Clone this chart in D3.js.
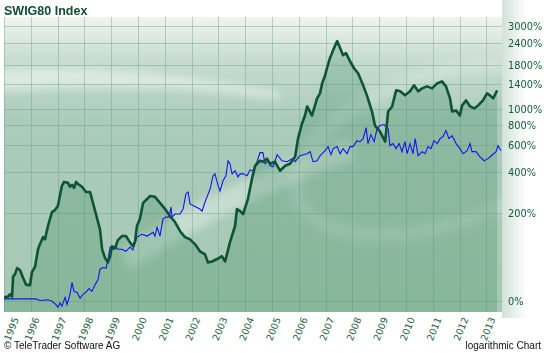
<!DOCTYPE html>
<html>
<head>
<meta charset="utf-8">
<script src="https://cdn.jsdelivr.net/npm/d3@7"></script>
<style>
  html, body { margin: 0; padding: 0; background: #fff; }
  svg { display: block; }
</style>
</head>
<body>
<svg id="chart" width="544" height="353"></svg>
<script>
// tick labels
const yearTicks = [1995, 1996, 1997, 1998, 1999, 2000, 2001, 2002, 2003, 2004,
  2005, 2006, 2007, 2008, 2009, 2010, 2011, 2012, 2013];
const pctTicks = [0, 200, 400, 600, 800, 1000, 1400, 1800, 2400, 3000];

// SWIG80 index, % change since start
const swig = [
  [1995.00, 4], [1995.15, 5], [1995.22, 8], [1995.30, 5], [1995.34, 35], [1995.41, 39],
  [1995.49, 50], [1995.60, 46], [1995.71, 33], [1995.82, 22], [1995.97, 21], [1996.04, 42],
  [1996.16, 53], [1996.27, 90], [1996.34, 102], [1996.46, 121], [1996.53, 115], [1996.64, 154],
  [1996.79, 202], [1996.90, 210], [1997.01, 226], [1997.16, 320], [1997.24, 341], [1997.39, 336],
  [1997.46, 315], [1997.54, 325], [1997.61, 309], [1997.69, 341], [1997.76, 330], [1997.91, 315],
  [1998.06, 289], [1998.21, 289], [1998.28, 256], [1998.43, 195], [1998.58, 144], [1998.66, 90],
  [1998.77, 70], [1998.88, 61], [1998.96, 74], [1999.03, 97], [1999.14, 92], [1999.25, 113],
  [1999.40, 124], [1999.55, 124], [1999.70, 107], [1999.81, 97], [1999.89, 110], [1999.96, 154],
  [2000.07, 177], [2000.19, 239], [2000.34, 256], [2000.45, 270], [2000.63, 266], [2000.82, 239],
  [2001.01, 214], [2001.19, 188], [2001.38, 167], [2001.57, 138], [2001.75, 121], [2001.94, 115],
  [2002.13, 102], [2002.31, 85], [2002.50, 78], [2002.61, 61], [2002.76, 63], [2002.95, 68],
  [2003.13, 74], [2003.25, 63], [2003.43, 107], [2003.62, 154], [2003.69, 214], [2003.81, 206],
  [2003.92, 195], [2004.10, 256], [2004.25, 358], [2004.37, 440], [2004.55, 475], [2004.66, 468],
  [2004.81, 490], [2004.93, 454], [2005.11, 468], [2005.30, 407], [2005.49, 440], [2005.67, 454],
  [2005.86, 504], [2005.97, 658], [2006.12, 816], [2006.23, 912], [2006.31, 1034], [2006.49, 912],
  [2006.68, 1154], [2006.79, 1236], [2006.87, 1414], [2006.98, 1575], [2007.05, 1729], [2007.16, 1975],
  [2007.28, 2195], [2007.43, 2470], [2007.54, 2253], [2007.65, 2054], [2007.76, 2109], [2007.91, 1897],
  [2008.06, 1729], [2008.21, 1618], [2008.40, 1377], [2008.54, 1203], [2008.73, 964], [2008.84, 793],
  [2009.03, 728], [2009.22, 630], [2009.33, 964], [2009.48, 1034], [2009.63, 1287], [2009.78, 1270],
  [2009.96, 1203], [2010.15, 1270], [2010.30, 1377], [2010.45, 1270], [2010.60, 1322], [2010.78, 1358],
  [2010.97, 1322], [2011.16, 1414], [2011.34, 1453], [2011.49, 1358], [2011.64, 1154], [2011.72, 964],
  [2011.87, 978], [2012.01, 912], [2012.09, 1048], [2012.24, 1123], [2012.39, 1034], [2012.54, 1006],
  [2012.69, 1048], [2012.87, 1123], [2013.02, 1236], [2013.13, 1203], [2013.25, 1154], [2013.40, 1287]
];

// comparison index (blue), % change since start
const bench = [
  [1995.00, 2], [1996.19, 2], [1996.34, 0], [1996.64, 1], [1996.79, -1], [1996.94, -5],
  [1997.01, -8], [1997.09, -3], [1997.16, -7], [1997.28, 4], [1997.35, -5], [1997.46, 8],
  [1997.54, 25], [1997.61, 12], [1997.72, 11], [1997.84, 3], [1997.95, 8], [1998.06, 11],
  [1998.17, 16], [1998.28, 12], [1998.40, 22], [1998.51, 30], [1998.58, 48], [1998.69, 51],
  [1998.81, 50], [1998.88, 68], [1998.96, 95], [1999.07, 90], [1999.18, 95], [1999.25, 90],
  [1999.40, 90], [1999.55, 85], [1999.70, 95], [1999.81, 88], [1999.96, 121], [2000.15, 129],
  [2000.34, 124], [2000.45, 129], [2000.56, 135], [2000.63, 124], [2000.71, 150], [2000.82, 124],
  [2000.93, 177], [2001.04, 184], [2001.16, 184], [2001.23, 222], [2001.27, 184], [2001.38, 195],
  [2001.57, 195], [2001.68, 214], [2001.79, 280], [2001.87, 289], [2001.94, 235], [2002.09, 226],
  [2002.31, 214], [2002.39, 206], [2002.50, 243], [2002.69, 304], [2002.80, 376], [2002.87, 388],
  [2002.99, 320], [2003.06, 294], [2003.17, 347], [2003.28, 376], [2003.36, 475], [2003.43, 454],
  [2003.51, 388], [2003.62, 407], [2003.73, 370], [2003.81, 388], [2003.92, 388], [2004.07, 376],
  [2004.18, 413], [2004.29, 407], [2004.44, 468], [2004.55, 536], [2004.66, 536], [2004.74, 454],
  [2004.85, 475], [2004.93, 440], [2005.04, 433], [2005.19, 520], [2005.37, 475], [2005.56, 468],
  [2005.75, 490], [2005.86, 468], [2006.04, 512], [2006.16, 520], [2006.31, 528], [2006.42, 544],
  [2006.53, 468], [2006.68, 475], [2006.79, 512], [2006.98, 552], [2007.09, 586], [2007.20, 520],
  [2007.28, 569], [2007.43, 586], [2007.54, 528], [2007.65, 569], [2007.80, 528], [2007.91, 586],
  [2008.02, 586], [2008.17, 639], [2008.28, 630], [2008.40, 658], [2008.51, 771], [2008.58, 612],
  [2008.69, 697], [2008.81, 630], [2008.92, 760], [2009.03, 793], [2009.18, 804], [2009.33, 760],
  [2009.40, 594], [2009.51, 612], [2009.63, 569], [2009.74, 612], [2009.85, 544], [2009.96, 630],
  [2010.04, 528], [2010.15, 612], [2010.26, 528], [2010.34, 658], [2010.45, 512], [2010.60, 544],
  [2010.71, 528], [2010.82, 586], [2010.93, 569], [2011.04, 639], [2011.16, 612], [2011.27, 658],
  [2011.38, 678], [2011.49, 738], [2011.60, 658], [2011.72, 687], [2011.87, 612], [2012.01, 569],
  [2012.13, 528], [2012.28, 552], [2012.39, 612], [2012.46, 544], [2012.61, 544], [2012.76, 504],
  [2012.91, 475], [2013.06, 490], [2013.18, 512], [2013.36, 544], [2013.43, 594], [2013.54, 552]
];

const svg = d3.select("#chart");
const pLeft = 4, pRight = 502, pTop = 17, pBottom = 312;

const x = d3.scaleLinear().domain([1995, 2013.58]).range([pLeft, pRight]);
// log chart of the growth factor (1 + pct/100)
const y = d3.scaleLog().domain([1, 10]).range([300.5, 116.5]);
const yp = (p) => y(1 + p / 100);

const defs = svg.append("defs");

const bg = defs.append("linearGradient")
  .attr("id", "plotBg").attr("x1", 0).attr("y1", 0).attr("x2", 0).attr("y2", 1);
bg.append("stop").attr("offset", "0%").attr("stop-color", "#f1f4f2");
bg.append("stop").attr("offset", "14%").attr("stop-color", "#c8ddd2");
bg.append("stop").attr("offset", "35%").attr("stop-color", "#abcbbb");
bg.append("stop").attr("offset", "100%").attr("stop-color", "#a6c9b3");

const side = defs.append("linearGradient")
  .attr("id", "sideBg").attr("x1", 0).attr("y1", 0).attr("x2", 1).attr("y2", 0);
side.append("stop").attr("offset", "0%").attr("stop-color", "#d3e1da");
side.append("stop").attr("offset", "60%").attr("stop-color", "#ffffff");

defs.append("filter").attr("id", "soft")
  .attr("x", "-20%").attr("y", "-50%").attr("width", "140%").attr("height", "200%")
  .append("feGaussianBlur").attr("stdDeviation", 4);

defs.append("clipPath").attr("id", "plotClip")
  .append("rect")
  .attr("x", pLeft).attr("y", pTop)
  .attr("width", pRight - pLeft).attr("height", pBottom - pTop);

// right label panel
svg.append("rect")
  .attr("x", pRight).attr("y", 0)
  .attr("width", 544 - pRight).attr("height", pBottom + 6)
  .attr("fill", "url(#sideBg)");

const plot = svg.append("g").attr("clip-path", "url(#plotClip)");

plot.append("rect")
  .attr("x", pLeft).attr("y", pTop)
  .attr("width", pRight - pLeft).attr("height", pBottom - pTop)
  .attr("fill", "url(#plotBg)");

// watermark swooshes
const deco = plot.append("g").attr("filter", "url(#soft)").attr("fill", "#ffffff");
deco.append("path")
  .attr("d", "M0,70 C80,66 180,72 280,92 L280,100 C180,84 80,86 0,92 Z")
  .attr("opacity", 0.45);
deco.append("path")
  .attr("d", "M120,245 C190,205 260,170 350,140 L355,160 C270,190 200,225 130,270 Z")
  .attr("opacity", 0.35);
plot.append("ellipse")
  .attr("cx", 440).attr("cy", 150).attr("rx", 150).attr("ry", 75)
  .attr("transform", "rotate(-18 440 150)")
  .attr("fill", "none").attr("stroke", "#ffffff")
  .attr("stroke-width", 16).attr("opacity", 0.18)
  .attr("filter", "url(#soft)");

// grid
const grid = plot.append("g")
  .attr("stroke", "#5f9d80").attr("stroke-opacity", 0.4).attr("stroke-width", 1);
grid.selectAll(".vg").data(yearTicks).join("line")
  .attr("x1", (d) => Math.round(x(d)) + 0.5).attr("x2", (d) => Math.round(x(d)) + 0.5)
  .attr("y1", pTop).attr("y2", pBottom);
grid.selectAll(".hg").data(pctTicks).join("line")
  .attr("x1", pLeft).attr("x2", pRight)
  .attr("y1", (d) => Math.round(yp(d)) + 0.5).attr("y2", (d) => Math.round(yp(d)) + 0.5);

// SWIG80 area + line
const area = d3.area()
  .x((d) => x(d[0])).y0(pBottom).y1((d) => yp(d[1]));
plot.append("path").datum(swig)
  .attr("d", area)
  .attr("fill", "#3b8a5e").attr("fill-opacity", 0.27);

const line = d3.line().x((d) => x(d[0])).y((d) => yp(d[1]));

plot.append("path").datum(bench)
  .attr("d", line)
  .attr("fill", "none").attr("stroke", "#1414f0").attr("stroke-width", 1.1);

plot.append("path").datum(swig)
  .attr("d", line)
  .attr("fill", "none").attr("stroke", "#0c5434")
  .attr("stroke-width", 2.6).attr("stroke-linejoin", "round");

// y labels
svg.append("g").selectAll("text").data(pctTicks).join("text")
  .attr("x", 508).attr("y", (d) => yp(d) + 4)
  .attr("font-family", "DejaVu Sans, Verdana, sans-serif")
  .attr("font-size", 9.8).attr("fill", "#145a3a")
  .text((d) => d + "%");

// x labels (first one nudged so it stays on the canvas)
svg.append("g").selectAll("text").data(yearTicks).join("text")
  .attr("transform", (d) => `translate(${Math.max(x(d) + 9, 19)},${pBottom + 7}) rotate(-68)`)
  .attr("text-anchor", "end")
  .attr("font-family", "DejaVu Sans, Verdana, sans-serif")
  .attr("font-size", 9.5).attr("fill", "#1a5e3e")
  .text((d) => d);

// title + footer
svg.append("text")
  .attr("x", 4).attr("y", 15)
  .attr("font-family", "Liberation Sans, Arial, sans-serif")
  .attr("font-weight", "bold").attr("font-size", 12.5).attr("fill", "#0e4e32")
  .text("SWIG80 Index");

svg.append("text")
  .attr("x", 4).attr("y", 349)
  .attr("font-family", "Liberation Sans, Arial, sans-serif")
  .attr("font-size", 10).attr("fill", "#111")
  .text("\u00a9 TeleTrader Software AG");

svg.append("text")
  .attr("x", 541).attr("y", 349).attr("text-anchor", "end")
  .attr("font-family", "Liberation Sans, Arial, sans-serif")
  .attr("font-size", 10).attr("fill", "#111")
  .text("logarithmic Chart");
</script>
</body>
</html>
